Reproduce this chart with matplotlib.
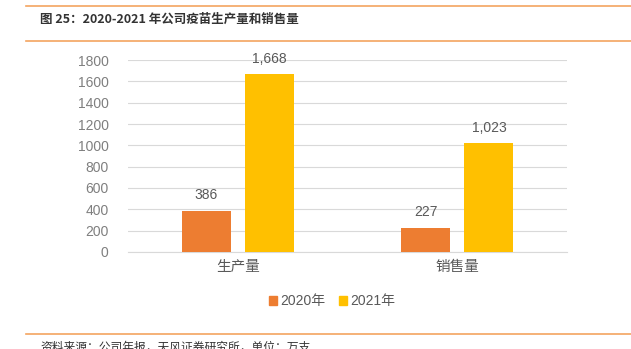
import matplotlib
import numpy as np

matplotlib.use("Agg")
from matplotlib import pyplot as plt
from matplotlib.lines import Line2D
from matplotlib.patches import Patch

plt.rcParams["font.family"] = ["Liberation Sans", "Noto Sans CJK SC", "DejaVu Sans"]

TITLE = "图 25：2020-2021 年公司疫苗生产量和销售量"
SOURCE = "资料来源：公司年报，天风证券研究所，单位：万支"
categories = ["生产量", "销售量"]
series_names = ["2020年", "2021年"]
values_2020 = [386, 227]
values_2021 = [1668, 1023]
yticks = [0, 200, 400, 600, 800, 1000, 1200, 1400, 1600, 1800]

COLORS = ("#ED7D31", "#FFC000")
TEXT = "#595959"
RULE = "#F4A460"

fig = plt.figure(figsize=(6.31, 3.49), dpi=100)
ax = fig.add_axes([0.2029, 0.278, 0.6957, 0.550])

x = np.arange(len(categories))
width = 0.223
offset = 0.144
for shift, vals, color, name in zip((-offset, offset), (values_2020, values_2021), COLORS, series_names):
    bars = ax.bar(x + shift, vals, width=width, color=color, label=name, zorder=3)
    for bar, v in zip(bars, vals):
        ax.annotate(f"{v:,}", (bar.get_x() + bar.get_width() / 2, v), xytext=(0, 6),
                    textcoords="offset points", ha="center", va="bottom",
                    fontsize=10, color=TEXT)

ax.set_xlim(-0.5, 1.5)
ax.set_ylim(0, 1800)
ax.set_yticks(yticks)
ax.set_yticklabels([str(t) for t in yticks], fontsize=10, color="#7F7F7F")
ax.set_xticks(x)
ax.set_xticklabels(categories, fontsize=10.5, color=TEXT, family=["Noto Sans CJK SC"])
ax.tick_params(axis="both", length=0)
ax.tick_params(axis="x", pad=6)
ax.tick_params(axis="y", pad=14)
ax.grid(axis="y", color="#D9D9D9", linewidth=0.8, zorder=0)
for side in ("top", "right", "left"):
    ax.spines[side].set_visible(False)
ax.spines["bottom"].set_color("#D9D9D9")

handles = [Patch(color=c, label=n) for c, n in zip(COLORS, series_names)]
fig.legend(handles=handles, loc="center", bbox_to_anchor=(0.526, 0.137), ncol=2,
           frameon=False, handlelength=0.6, handleheight=0.6,
           handletextpad=0.2, columnspacing=1.0,
           prop={"family": ["Liberation Sans", "Noto Sans CJK SC"], "size": 10})
for t in fig.legends[0].get_texts():
    t.set_color(TEXT)

# header and footer rules
for yy in (1 - 6 / 349, 1 - 41 / 349, 1 - 334 / 349):
    fig.add_artist(Line2D([26 / 631, 1.0], [yy, yy], color=RULE, linewidth=1.2))
fig.text(40 / 631, 1 - 19 / 349, TITLE, fontsize=9, fontweight="bold", color="#333333",
         va="center", family=["Noto Sans CJK SC"])
fig.text(40 / 631, 1 - 347 / 349, SOURCE, fontsize=8.5, color="#333333",
         va="center", family=["Noto Sans CJK SC"])

fig.savefig("out.png", dpi=100)
